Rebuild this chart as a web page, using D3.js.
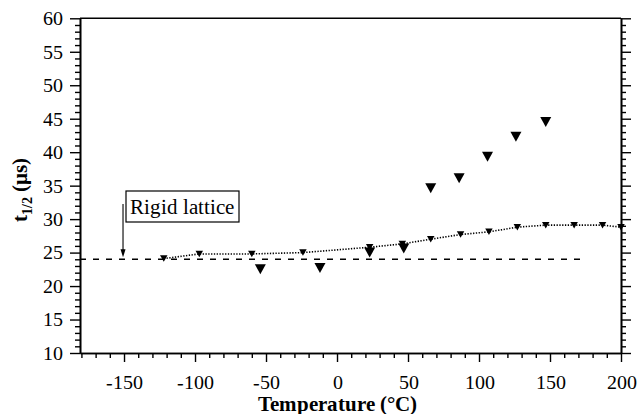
<!DOCTYPE html>
<html><head><meta charset="utf-8">
<script src="https://cdn.jsdelivr.net/npm/d3@7"></script>
<style>
@font-face{font-family:"ChartSerif";src:local("Liberation Serif"),local("LiberationSerif");font-weight:400;}
@font-face{font-family:"ChartSerif";src:local("Liberation Serif Bold"),local("LiberationSerif-Bold");font-weight:700;}
body{margin:0;background:#fff;}
#c text, #c tspan{font-family:ChartSerif,"Liberation Serif",serif !important;}
</style>
</head>
<body><svg id="c" width="639" height="414"></svg>
<script>
// ---- data ----
const xMajorTicks = [-150, -100, -50, 0, 50, 100, 150, 200];
const yMajorTicks = [10, 15, 20, 25, 30, 35, 40, 45, 50, 55, 60];
const smallT = [-122, -97, -60, -24, 23, 46, 66, 87, 107, 127, 147, 167, 187, 200];
const smallV = [24.1, 24.8, 24.8, 25.0, 25.8, 26.3, 27.0, 27.7, 28.1, 28.8, 29.1, 29.1, 29.1, 28.8];
const largeT = [-54, -12, 23, 47, 66, 86, 106, 126, 147];
const largeV = [22.5, 22.7, 25.0, 25.6, 34.6, 36.1, 39.3, 42.3, 44.5];
const rigidValue = 24;
const rigidLineT = [-181, 176];
const rigidArrowT = -150;
const annotationText = "Rigid lattice";

// ---- layout ----
const FONT = "ChartSerif, 'Liberation Serif', serif";
const L = 80, R = 621, T = 18.3, B = 353;
const svg = d3.select("#c");
const x = d3.scaleLinear().domain([-181, 200]).range([L, R]);
const y = d3.scaleLinear().domain([10, 60]).range([B, T]);

const xMinor = d3.range(-180, 201, 10).filter(v => v % 50 !== 0);
const yMinor = d3.range(10, 61, 1).filter(v => v % 5 !== 0);

function styleAxis(g){
  g.attr("font-family", FONT).attr("font-size", 20);
  g.select(".domain").attr("stroke", "#000").attr("stroke-width", 1.6);
  g.selectAll(".tick line").attr("stroke", "#000").attr("stroke-width", 1.4);
  g.selectAll(".tick text").attr("fill", "#000");
}

// bottom axis
svg.append("g").attr("transform", `translate(0,${B})`)
  .call(d3.axisBottom(x).tickValues(xMinor).tickSize(5).tickFormat("").tickSizeOuter(0))
  .call(styleAxis);
svg.append("g").attr("transform", `translate(0,${B})`)
  .call(d3.axisBottom(x).tickValues(xMajorTicks).tickSize(9).tickPadding(13).tickSizeOuter(0).tickFormat(d => String(d)))
  .call(styleAxis);

// left axis
svg.append("g").attr("transform", `translate(${L},0)`)
  .call(d3.axisLeft(y).tickValues(yMinor).tickSize(5).tickFormat("").tickSizeOuter(0))
  .call(styleAxis);
svg.append("g").attr("transform", `translate(${L},0)`)
  .call(d3.axisLeft(y).tickValues(yMajorTicks).tickSize(10).tickPadding(7).tickSizeOuter(0))
  .call(styleAxis);

// right axis
svg.append("g").attr("transform", `translate(${R},0)`)
  .call(d3.axisRight(y).tickValues(yMinor).tickSize(5).tickFormat("").tickSizeOuter(0))
  .call(styleAxis);
svg.append("g").attr("transform", `translate(${R},0)`)
  .call(d3.axisRight(y).tickValues(yMajorTicks).tickSize(10).tickFormat("").tickSizeOuter(0))
  .call(styleAxis);

// top line
svg.append("line").attr("x1", L).attr("x2", R).attr("y1", T).attr("y2", T)
  .attr("stroke", "#000").attr("stroke-width", 1.6);

// titles
svg.append("text").attr("x", x(0)).attr("y", 411).attr("text-anchor", "middle")
  .attr("font-family", FONT).attr("font-size", 20.5).attr("font-weight", "bold").text("Temperature (°C)");
const yt = svg.append("text").attr("transform", "translate(27,190) rotate(-90)")
  .attr("text-anchor", "middle").attr("font-family", FONT).attr("font-size", 21).attr("font-weight", "bold");
yt.append("tspan").text("t");
yt.append("tspan").attr("dy", 5).attr("font-size", 14).text("1/2");
yt.append("tspan").attr("dy", -5).text(" (µs)");

// rigid lattice dashed line
svg.append("line")
  .attr("x1", x(rigidLineT[0])).attr("x2", x(rigidLineT[1]))
  .attr("y1", y(rigidValue)).attr("y2", y(rigidValue))
  .attr("stroke", "#000").attr("stroke-width", 1.4).attr("stroke-dasharray", "6,7");

// dotted line through small markers
const pts = smallT.map((t, i) => [t, smallV[i]]);
svg.append("path").datum(pts)
  .attr("d", d3.line().x(d => x(d[0])).y(d => y(d[1])))
  .attr("fill", "none").attr("stroke", "#000").attr("stroke-width", 1.6)
  .attr("stroke-dasharray", "1.3,1.5");

function tri(cx, cy, w, h){
  return `M${cx - w/2},${cy - h/2}L${cx + w/2},${cy - h/2}L${cx},${cy + h/2}Z`;
}
svg.append("g").selectAll("path").data(largeT.map((t, i) => [t, largeV[i]])).join("path")
  .attr("d", d => tri(x(d[0]), y(d[1]), 11, 10)).attr("fill", "#000");
svg.append("g").selectAll("path").data(pts).join("path")
  .attr("d", d => tri(x(d[0]), y(d[1]), 7.5, 6.5)).attr("fill", "#000");

// annotation
const ax = x(rigidArrowT) - 1;
svg.append("line").attr("x1", ax).attr("x2", ax).attr("y1", 204).attr("y2", y(rigidValue) - 9)
  .attr("stroke", "#000").attr("stroke-width", 1.1);
svg.append("path")
  .attr("d", `M${ax - 2.5},${y(rigidValue) - 10}L${ax + 2.5},${y(rigidValue) - 10}L${ax},${y(rigidValue) - 2}Z`)
  .attr("fill", "#000");
svg.append("rect").attr("x", 126).attr("y", 191).attr("width", 113).attr("height", 31)
  .attr("fill", "#fff").attr("stroke", "#000").attr("stroke-width", 1.2);
svg.append("text").attr("x", 129.5).attr("y", 214).attr("font-family", FONT).attr("font-size", 21).text(annotationText);

// force the serif face on every text (inline, important)
function applyFont(){
  svg.selectAll("text, tspan").each(function(){
    if (this.style.getPropertyValue("font-family") !== FONT || this.style.getPropertyPriority("font-family") !== "important")
      this.style.setProperty("font-family", FONT, "important");
  });
}
applyFont();
new MutationObserver(applyFont).observe(document.getElementById("c"), {subtree: true, attributes: true, attributeFilter: ["style", "font-family"]});
</script></body></html>
